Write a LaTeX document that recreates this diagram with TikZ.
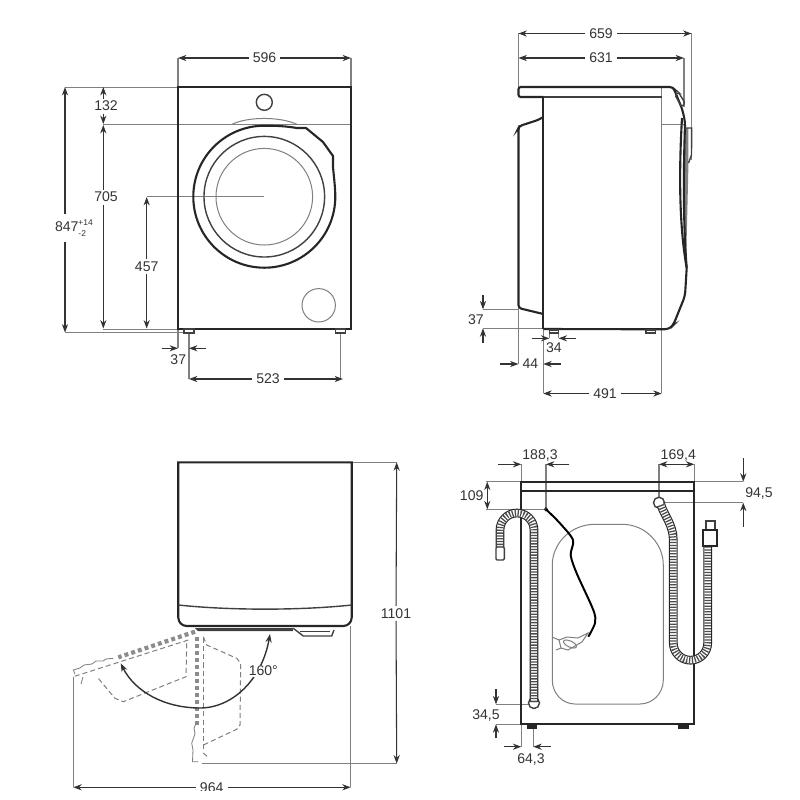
\documentclass[tikz,border=0pt]{standalone}
\usepackage{fontspec}
\setmainfont{Liberation Sans}
\usetikzlibrary{arrows.meta}
\definecolor{dimink}{HTML}{333333}
\definecolor{thinink}{HTML}{808080}
\newcommand{\tolfont}{\fontsize{3}{3.2}\selectfont}
\tikzset{
    body/.style={draw=black!85,line width=0.75pt},
    fine/.style={draw=black!75,line width=0.5pt},
    thinline/.style={draw=thinink,line width=0.36pt},
    dimline/.style={draw=dimink,line width=0.38pt},
    dimarrow/.style={dimline,-{Stealth[length=3pt,width=2.2pt]}},
    bothways/.style={dimline,{Stealth[length=3pt,width=2.2pt]}-{Stealth[length=3pt,width=2.2pt]}},
    dimlab/.style={font=\fontsize{5}{6}\selectfont,text=dimink,inner xsep=1.3pt,inner ysep=0.7pt},
    doorfat/.style={draw=black!45,line width=1.5pt,dash pattern=on 1.4pt off 1.1pt},
    doorthin/.style={draw=black!50,line width=0.36pt,dash pattern=on 1.8pt off 1.1pt},
    doorwave/.style={draw=black!50,line width=0.3pt},
    hose/.style={draw=black!85,line width=3.1pt,postaction={draw=white,line width=2.3pt},
        postaction={draw=black!70,line width=2.3pt,dash pattern=on 0.45pt off 0.55pt}},
}
\begin{document}
\begin{tikzpicture}[x=0.0125cm,y=-0.0125cm]
    \useasboundingbox (0,0) rectangle (800,800);

    % front view
    \draw[thinline] (65,87) -- (178,87);
    \draw[thinline] (103.3,124.3) -- (351,124.3);
    \draw[thinline] (65,332.7) -- (184,332.7);
    \draw[thinline] (103.3,329) -- (178,329);
    \draw[thinline] (146.7,196.7) -- (264.3,196.7);
    \draw[thinline] (178,57.7) -- (178,87);
    \draw[thinline] (351,57.7) -- (351,87);
    \draw[thinline] (178,329) -- (178,348.3);
    \draw[thinline] (189,333) -- (189,379);
    \draw[thinline] (340.5,333) -- (340.5,379);
    \draw[body] (178,87) rectangle (351,329);
    \draw[fine] (264.3,102.3) circle[radius=8];
    \draw[thinline] (232,124.3) .. controls (248,116.5) and (280,116.5) .. (297,124.3);
    \draw[body] (335.3,196.7) arc[start angle=0,end angle=270,radius=71]
        .. controls (276,125.7) and (285,126) .. (297,128)
        -- (306,128) -- (323,142) -- (333,156) -- (333,167) .. controls (334,178) and (335.3,188) .. cycle;
    \draw[fine] (264.3,196.7) circle[radius=60.3];
    \draw[thinline] (264.3,196.7) circle[radius=48.3];
    \draw[thinline] (318.7,305.3) circle[radius=16.7];
    \draw[fine] (184,329) rectangle (194,333);
    \draw[fine] (335.7,329) rectangle (345.7,333);

    \node[dimlab] (w596) at (264.5,58) {596};
    \coordinate (w596l) at (178,58); \coordinate (w596r) at (351,58);
    \draw[dimarrow] (w596) -- (w596l);
    \draw[dimarrow] (w596) -- (w596r);
    \coordinate (x103) at (103.3,87); \coordinate (x65) at (65,87);
    \node[dimlab] (h132) at (106,106) {132};
    \coordinate (h132t) at (103.3,87); \coordinate (h132b) at (103.3,124);
    \draw[dimarrow] (h132.north -| x103) -- (h132t);
    \draw[dimarrow] (h132.south -| x103) -- (h132b);
    \node[dimlab] (h705) at (106,197) {705};
    \coordinate (h705t) at (103.3,125); \coordinate (h705b) at (103.3,328.5);
    \draw[dimarrow] (h705.north -| x103) -- (h705t);
    \draw[dimarrow] (h705.south -| x103) -- (h705b);
    \node[dimlab] (h457) at (146.7,266.7) {457};
    \coordinate (h457t) at (146.7,197); \coordinate (h457b) at (146.7,328.5);
    \draw[dimarrow] (h457) -- (h457t);
    \draw[dimarrow] (h457) -- (h457b);
    \node[dimlab,inner ysep=2pt] (h847) at (70.5,228) {847\rlap{\raisebox{2.2pt}{\tolfont+14}}\raisebox{-1.6pt}{\tolfont-2}\hspace{2.6pt}};
    \coordinate (h847t) at (65,87); \coordinate (h847b) at (65,332.5);
    \draw[dimarrow] (h847.north -| x65) -- (h847t);
    \draw[dimarrow] (h847.south -| x65) -- (h847b);
    \node[dimlab] (f37) at (178.3,359.5) {37};
    \coordinate (f37a) at (161.7,348.3); \coordinate (f37b) at (178,348.3);
    \coordinate (f37c) at (205.7,348.3); \coordinate (f37d) at (189,348.3);
    \draw[dimarrow] (f37a) -- (f37b);
    \draw[dimarrow] (f37c) -- (f37d);
    \node[dimlab] (w523) at (268,379) {523};
    \coordinate (w523l) at (189,379); \coordinate (w523r) at (343,379);
    \draw[dimarrow] (w523) -- (w523l);
    \draw[dimarrow] (w523) -- (w523r);

    % side view
    \draw[thinline] (518.5,33.3) -- (518.5,87);
    \draw[thinline] (518.5,308) -- (518.5,364);
    \draw[thinline] (691.5,33.3) -- (691.5,160);
    \draw[thinline] (684,57.7) -- (684,107);
    \draw[thinline] (661.7,87) -- (661.7,393.3);
    \draw[thinline] (661.7,124) -- (684,124);
    \draw[thinline] (543.3,329) -- (543.3,393.3);
    \draw[thinline] (483,309.3) -- (518.5,309.3);
    \draw[thinline] (483,328.3) -- (543.3,328.3);
    \draw[thinline] (549.3,333) -- (549.3,338.3);
    \draw[thinline] (558.7,333) -- (558.7,338.3);
    \draw[fine] (543.3,97) -- (661.7,97);
    \draw[body,rounded corners=0.8pt] (543.3,97) -- (518.5,97) -- (518.5,87) -- (671.7,87) -- (674,89) -- (681.7,108);
    \draw[body] (681.7,108) .. controls (684,116) and (685,120) .. (685,126);
    \draw[body] (543.3,97) -- (543.3,329);
    \draw[body,rounded corners=1pt] (543.3,117) -- (538,120) -- (519.5,126) -- (518.5,128) -- (518.5,308) -- (543.3,314);
    \draw[body,rounded corners=1.5pt] (543.3,329) -- (669,329.3) -- (673.3,325) -- (685,296) -- (686.7,268);
    \fill[black!50] (685,128) -- (688.5,128) -- (688.5,163) -- (686,267) -- (684,240) -- cycle;
    \draw[body] (685,125) .. controls (683.5,170) and (683,220) .. (686.7,268);
    \draw[body] (682,118) .. controls (679,170) and (679,225) .. (686.7,268);
    \draw[fine,rounded corners=0.6pt] (675,95) -- (678.3,92) -- (685,103) -- (681.7,107) -- cycle;
    \draw[fine] (685,128) -- (691.7,128) -- (691.5,155) -- (688.5,163);
    \draw[fine] (549.3,330) rectangle (558.7,333);
    \draw[fine] (646,330) rectangle (655.7,333);

    \node[dimlab] (w659) at (601,33.5) {659};
    \coordinate (w659l) at (518.5,33.5); \coordinate (w659r) at (691.5,33.5);
    \draw[dimarrow] (w659) -- (w659l);
    \draw[dimarrow] (w659) -- (w659r);
    \node[dimlab] (w631) at (601,58) {631};
    \coordinate (w631l) at (518.5,58); \coordinate (w631r) at (684,58);
    \draw[dimarrow] (w631) -- (w631l);
    \draw[dimarrow] (w631) -- (w631r);
    \node[dimlab] (s37) at (476,320) {37};
    \coordinate (s37a) at (483,295); \coordinate (s37b) at (483,309.3);
    \coordinate (s37c) at (483,342.7); \coordinate (s37d) at (483,328.3);
    \draw[dimarrow] (s37a) -- (s37b);
    \draw[dimarrow] (s37c) -- (s37d);
    \node[dimlab] (s34) at (554,347.7) {34};
    \coordinate (s34a) at (531.7,338.3); \coordinate (s34b) at (549.3,338.3);
    \coordinate (s34c) at (576,338.3); \coordinate (s34d) at (558.7,338.3);
    \draw[dimarrow] (s34a) -- (s34b);
    \draw[dimarrow] (s34c) -- (s34d);
    \node[dimlab] (s44) at (530.5,364) {44};
    \coordinate (s44a) at (500,364); \coordinate (s44b) at (518.5,364);
    \coordinate (s44c) at (560.7,364); \coordinate (s44d) at (543.3,364);
    \draw[dimarrow] (s44a) -- (s44b);
    \draw[dimarrow] (s44c) -- (s44d);
    \node[dimlab] (w491) at (605,393.5) {491};
    \coordinate (w491l) at (543.3,393.5); \coordinate (w491r) at (661.7,393.5);
    \draw[dimarrow] (w491) -- (w491l);
    \draw[dimarrow] (w491) -- (w491r);

    % top view, door swung open
    \draw[thinline] (351.7,462.3) -- (396.7,462.3);
    \draw[thinline] (201.7,763.5) -- (396.7,763.5);
    \draw[thinline] (350.7,626) -- (350.7,787.3);
    \draw[thinline] (73.3,676.7) -- (73.3,787.3);
    \draw[body] (178.3,462.3) -- (351.7,462.3) [rounded corners=3pt] -- (351.7,626) -- (178.3,626) [sharp corners] -- cycle;
    \draw[fine] (178.3,605) .. controls (230,610.5) and (300,610.5) .. (351.7,605);
    \fill[black!75] (195,628) -- (293,628) -- (293,631) -- (198,631) -- cycle;
    \draw[fine] (293.3,628.3) -- (303.3,636) -- (331.7,636) -- (334,630);
    \draw[fine] (300,631.7) -- (330,631.7);
    \draw[doorfat] (195,631.7) -- (118.3,657.3);
    \draw[doorfat] (196.7,636.7) -- (196.7,725);
    \draw[doorthin] (188.3,640) -- (73.3,676.7);
    \draw[doorthin] (186.7,643.3) -- (186,676.7) -- (123.3,701.7) -- (115,698.3) -- (98.3,678.3);
    \draw[doorthin] (203.3,636.7) -- (206.7,645) -- (236.7,658.3) -- (240.7,663.3) -- (240,725) -- (236.7,729.3) -- (203.3,745);
    \draw[doorthin] (203.3,638) -- (203.3,750);
    \draw[doorthin] (203.3,753) -- (209,758);
    \draw[doorwave] (113.3,658.3) -- (106,659) -- (103,661) -- (96,661) -- (92,664) -- (84,665) -- (80,668) -- (73.3,670) -- (75,674);
    \draw[doorwave] (196.7,722) -- (194,728) -- (195,734) -- (191.7,743) -- (193,750) -- (192.5,761.7) -- (198.3,761.7);
    \draw[doorwave] (81,684) -- (83,677);

    \node[dimlab] (h1101) at (396,613.3) {1101};
    \coordinate (h1101t) at (396.7,462.3); \coordinate (h1101b) at (396.7,763.5);
    \draw[dimarrow] (h1101) -- (h1101t);
    \draw[dimarrow] (h1101) -- (h1101b);
    \coordinate (a160s) at (270,634); \coordinate (a160m) at (200,708); \coordinate (a160e) at (120.7,663.3);
    \draw[bothways,draw=black!80,line width=0.5pt]
        (a160s) .. controls (262,680) and (232,708) .. (a160m) .. controls (165,708) and (135,692) .. (a160e);
    \node[dimlab,fill=white,inner sep=0.4pt] (a160) at (263.3,671) {160°};
    \node[dimlab] (w964) at (211.7,788) {964};
    \coordinate (w964l) at (73.3,787.3); \coordinate (w964r) at (350.7,787.3);
    \draw[dimarrow] (w964.west |- w964l) -- (w964l);
    \draw[dimarrow] (w964.east |- w964r) -- (w964r);
    \fill[white] (60,790.5) rectangle (400,800);

    % rear view
    \draw[thinline] (486,481.7) -- (521.3,481.7);
    \draw[thinline] (486,509.3) -- (546,509.3);
    \draw[thinline] (521.3,464.3) -- (521.3,481.7);
    \draw[thinline] (546,464.3) -- (546,509.3);
    \draw[thinline] (659,464.3) -- (659,497);
    \draw[thinline] (694.3,464.3) -- (694.3,481.7);
    \draw[thinline] (694.3,481.7) -- (743.3,481.7);
    \draw[thinline] (663,502.7) -- (743.3,502.7);
    \draw[thinline] (496,704.3) -- (530,704.3);
    \draw[thinline] (496,724.3) -- (521.3,724.3);
    \draw[thinline] (521.3,724.3) -- (521.3,746.7);
    \draw[thinline] (533.3,728.7) -- (533.3,746.7);
    \draw[thinline] (552.3,565) .. controls (552.3,544) and (570,524.3) .. (595,524.3) -- (622,524.3)
        .. controls (646,524.3) and (663.3,544) .. (663.3,565) -- (663.3,680)
        .. controls (663.3,694) and (652,704) .. (640,704) -- (575,704)
        .. controls (563,704) and (552.3,694) .. (552.3,680) -- cycle;
    \draw[body] (521.3,481.7) rectangle (694.3,724.3);
    \draw[body] (521.3,490.7) -- (694.3,490.7);
    \fill[black!85] (526.7,724.3) rectangle (537.3,728.7);
    \fill[black!85] (678.3,724.3) rectangle (689,728.7);
    \draw[body,line width=0.45pt] (546,509.3) circle[radius=1.4];
    \draw[draw=black,line width=0.7pt] plot[smooth] coordinates {(546,509.3) (560,523.3) (573,540) (570.7,555) (576.7,573.3) (593.3,610) (595,623) (588.3,636.7)};
    \draw[thinline] (588,633) -- (582,642) -- (568,650) -- (561,648) -- (559,640) -- (567,637) -- (578,638) -- cycle;
    \draw[thinline] (559,640) -- (552,637);
    \draw[thinline] (561,648) -- (556,650);
    \draw[thinline,rotate around={-25:(570,644)}] (570,644) ellipse[x radius=7,y radius=3];
    \draw[fine] (534,703) circle[radius=5.5];
    \draw[fine] (659,502.7) circle[radius=5.5];
    \draw[hose] (534,702) -- (534,530) arc[start angle=0,end angle=-180,radius=17] -- (500,547);
    \draw[fine,fill=white,rounded corners=0.4pt] (496,547) rectangle (504.3,560);
    \draw[hose] (661,505) .. controls (664,515) and (673.3,525) .. (673.3,540) -- (673.3,643)
        arc[start angle=180,end angle=0,radius=17.2] -- (707.7,546);
    \draw[fine,fill=white] (706,521) rectangle (715,530);
    \draw[body,fill=white] (702.7,530) rectangle (716.7,546);

    \node[dimlab] (r109) at (471.7,496) {109};
    \coordinate (r109t) at (487.3,481.7); \coordinate (r109b) at (487.3,509.3);
    \draw[bothways] (r109t) -- (r109b);
    \node[dimlab] (r188) at (540,455) {188,3};
    \coordinate (r188a) at (498.3,464.3); \coordinate (r188b) at (521.3,464.3);
    \coordinate (r188c) at (569.3,464.3); \coordinate (r188d) at (546,464.3);
    \draw[dimarrow] (r188a) -- (r188b);
    \draw[dimarrow] (r188c) -- (r188d);
    \node[dimlab] (r169) at (678.3,455) {169,4};
    \coordinate (r169l) at (659,464.3); \coordinate (r169r) at (694.3,464.3);
    \draw[bothways] (r169l) -- (r169r);
    \node[dimlab] (r94) at (759,493.3) {94,5};
    \coordinate (r94a) at (743.3,458.3); \coordinate (r94b) at (743.3,481.7);
    \coordinate (r94c) at (743.3,526.7); \coordinate (r94d) at (743.3,502.7);
    \draw[dimarrow] (r94a) -- (r94b);
    \draw[dimarrow] (r94c) -- (r94d);
    \node[dimlab] (r34) at (486,715.3) {34,5};
    \coordinate (r34a) at (496,689.3); \coordinate (r34b) at (496,704.3);
    \coordinate (r34c) at (496,738.3); \coordinate (r34d) at (496,724.3);
    \draw[dimarrow] (r34a) -- (r34b);
    \draw[dimarrow] (r34c) -- (r34d);
    \node[dimlab] (r64) at (531,759) {64,3};
    \coordinate (r64a) at (504.3,746.7); \coordinate (r64b) at (521.3,746.7);
    \coordinate (r64c) at (550.7,746.7); \coordinate (r64d) at (533.3,746.7);
    \draw[dimarrow] (r64a) -- (r64b);
    \draw[dimarrow] (r64c) -- (r64d);
\end{tikzpicture}
\end{document}
